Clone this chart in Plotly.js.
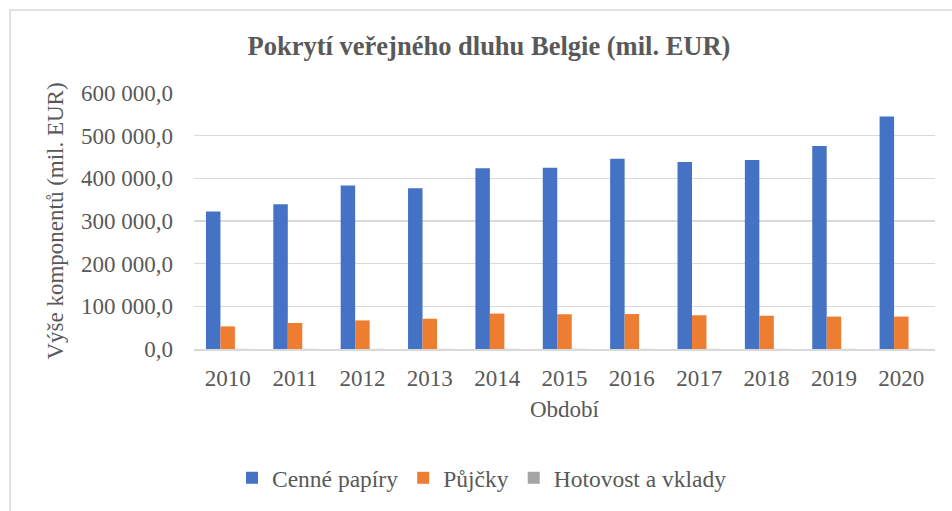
<!DOCTYPE html>
<html>
<head>
<meta charset="utf-8">
<script src="https://cdn.plot.ly/plotly-3.0.1.min.js"></script>
<style>html,body{margin:0;padding:0;background:#fff;}#chart{width:952px;height:511px;}</style>
</head>
<body>
<div id="chart"></div>
<script>
const years = ["2010","2011","2012","2013","2014","2015","2016","2017","2018","2019","2020"];
const cennePapiry = [322000, 339000, 383000, 377000, 423500, 425000, 446000, 438500, 443000, 476000, 545000];
const pujcky = [53000, 61000, 67000, 71000, 83000, 81500, 82000, 79000, 78000, 76000, 76000];
const hotovost = [300, 300, 300, 300, 300, 300, 300, 300, 300, 300, 300];
const seriesNames = ["Cenné papíry", "Půjčky", "Hotovost a vklady"];
const colors = ["#4472C4", "#ED7D31", "#A5A5A5"];

const font = "Liberation Serif";
const grey = "#595959";

const traces = [cennePapiry, pujcky, hotovost].map((vals, i) => ({
  type: "bar",
  name: seriesNames[i],
  x: years,
  y: vals,
  marker: {color: colors[i], line: {width: 0}},
  hoverinfo: "x+y+name"
}));

const L = 194, R = 935.5, T = 93, B = 349;
const W = 952, H = 511;
const pw = R - L, ph = B - T;

const layout = {
  width: W, height: H,
  margin: {l: L, r: W - R, t: T, b: H - B, pad: 0},
  paper_bgcolor: "#ffffff",
  plot_bgcolor: "#ffffff",
  font: {family: font, color: grey, size: 23},
  separators: ", ",
  barmode: "group",
  bargap: 0.355,
  bargroupgap: 0,
  showlegend: true,
  title: {
    text: "<b>Pokrytí veřejného dluhu Belgie (mil. EUR)</b>",
    font: {family: font, size: 26.5, color: grey},
    xref: "container", x: 489 / W, xanchor: "center",
    yref: "container", y: 1 - 46 / H, yanchor: "middle"
  },
  xaxis: {
    type: "category",
    showgrid: false,
    zeroline: false,
    showline: true, linecolor: "#d9d9d9", linewidth: 1.5,
    ticks: "",
    ticklabelstandoff: 8,
    tickfont: {family: font, size: 23, color: grey},
    title: {text: "Období", font: {family: font, size: 23, color: grey}, standoff: 11}
  },
  yaxis: {
    range: [0, 600000],
    dtick: 100000,
    tickformat: ",.1f",
    showgrid: true, gridcolor: "#d9d9d9", gridwidth: 1.5,
    zeroline: false,
    showline: false,
    ticks: "",
    ticklabelstandoff: 20,
    tickfont: {family: font, size: 23, color: grey},
    title: {text: "Výše komponentů (mil. EUR)", font: {family: font, size: 23, color: grey}, standoff: 10}
  },
  legend: {
    orientation: "h",
    xref: "container", x: 482 / W, xanchor: "center",
    yref: "container", y: 1 - 478 / H, yanchor: "middle",
    font: {family: font, size: 23.5, color: grey},
    itemwidth: 30,
    traceorder: "normal"
  },
  shapes: [{
    type: "rect", xref: "paper", yref: "paper", layer: "below",
    x0: (10 - L) / pw, x1: (W + 20 - L) / pw,
    y0: -(H + 20 - B) / ph, y1: (B - 10) / ph,
    line: {color: "#d9d9d9", width: 1.5},
    fillcolor: "rgba(0,0,0,0)"
  }]
};

Plotly.newPlot("chart", traces, layout, {displayModeBar: false, staticPlot: true});
</script>
</body>
</html>
